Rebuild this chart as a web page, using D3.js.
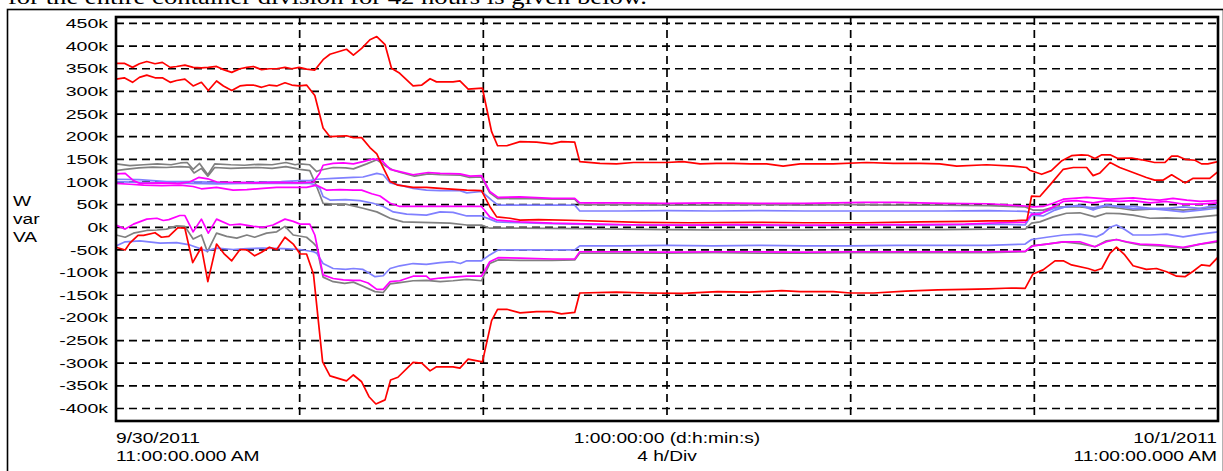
<!DOCTYPE html>
<html>
<head>
<meta charset="utf-8">
<script src="https://cdn.jsdelivr.net/npm/d3@7"></script>
<style>
  body { margin: 0; background: #fff; }
  svg { display: block; }
  text { font-family: "Liberation Sans", Arial, sans-serif; fill: #000; }
</style>
</head>
<body>
<script>
// time in hours from 9/30/2011 11:00 AM, values in k (W / var / VA)
const hourGrid = [4, 8, 12, 16, 20];
const yTicks = [450, 400, 350, 300, 250, 200, 150, 100, 50, 0, -50, -100, -150, -200, -250, -300, -350, -400];
const yLabels = ["W", "var", "VA"];

const red1 = [[0,362],[0.18,362],[0.36,353],[0.51,361],[0.67,366],[0.85,361],[1.01,364],[1.18,353],[1.32,355],[1.5,358],[1.68,353],[1.86,352],[2.01,353],[2.19,355],[2.34,348],[2.52,342],[2.7,350],[2.85,353],[2.99,355],[3.17,348],[3.34,350],[3.5,350],[3.68,353],[3.83,350],[3.99,353],[4.15,349],[4.33,347],[4.51,370],[4.66,382],[5.02,393],[5.17,380],[5.35,395],[5.53,414],[5.68,421],[5.86,403],[6.0,351],[6.18,340],[6.47,312],[6.66,314],[6.84,328],[6.98,321],[7.34,321],[7.49,323],[7.67,305],[7.98,307],[8.18,211],[8.31,180],[8.51,180],[8.8,189],[9.16,188],[9.49,184],[9.7,189],[9.99,188],[10.1,145],[10.54,141],[10.9,140],[11.27,143],[11.7,143],[11.99,143],[12.35,145],[12.72,140],[13.08,141],[13.44,141],[13.81,140],[14.17,140],[14.53,135],[14.9,140],[15.62,140],[16.35,143],[16.93,141],[17.51,141],[17.94,140],[18.31,135],[18.96,138],[19.54,135],[19.83,132],[19.9,126],[20.16,117],[20.37,125],[20.6,147],[20.81,158],[21.03,160],[21.17,159],[21.32,152],[21.47,160],[21.65,160],[21.82,152],[22.12,153],[22.34,149],[22.62,143],[22.84,143],[22.99,157],[23.13,157],[23.28,150],[23.5,148],[23.64,140],[23.78,140],[24,145]];
const red2 = [[0,327],[0.18,330],[0.36,320],[0.51,331],[0.67,336],[0.85,330],[1.01,330],[1.18,320],[1.32,324],[1.5,327],[1.68,312],[1.86,320],[2.01,302],[2.19,323],[2.34,312],[2.52,302],[2.7,312],[2.85,314],[2.99,314],[3.17,309],[3.34,314],[3.5,312],[3.68,319],[3.83,314],[3.99,312],[4.15,314],[4.33,291],[4.51,219],[4.66,200],[5.02,202],[5.17,198],[5.35,198],[5.53,176],[5.68,162],[5.79,138],[5.97,101],[6.14,93],[6.47,88],[6.76,88],[7.06,86],[7.64,82],[7.96,81],[8.14,46],[8.29,23],[8.58,20],[8.8,16],[9.2,17],[10.1,15],[11.4,11],[12.5,10],[13.8,11],[15,10],[16.3,10],[17.5,12],[18.5,13],[19.0,14],[19.5,14],[19.84,16],[19.94,69],[20.12,68],[20.37,97],[20.63,128],[20.85,132],[21.14,132],[21.28,114],[21.43,120],[21.65,143],[21.86,132],[22.15,121],[22.44,110],[22.62,104],[22.8,104],[22.99,116],[23.28,98],[23.46,108],[23.82,108],[24,123]];
const red3 = [[0,-44],[0.2,-50],[0.3,-35],[0.48,-18],[0.6,-18],[0.85,-12],[0.99,-22],[1.15,-20],[1.35,-1],[1.5,-2],[1.67,-78],[1.86,-44],[2.0,-120],[2.19,-37],[2.35,-58],[2.52,-74],[2.7,-49],[2.85,-50],[3.02,-63],[3.17,-55],[3.34,-44],[3.5,-49],[3.68,-22],[3.86,-37],[4.01,-59],[4.15,-59],[4.3,-103],[4.5,-297],[4.66,-328],[5.02,-339],[5.17,-326],[5.35,-341],[5.51,-374],[5.66,-390],[5.86,-381],[5.98,-337],[6.14,-331],[6.47,-298],[6.66,-300],[6.84,-317],[6.98,-308],[7.34,-308],[7.49,-311],[7.67,-291],[7.98,-297],[8.18,-206],[8.31,-181],[8.51,-181],[8.8,-189],[9.16,-186],[9.49,-186],[9.7,-191],[9.99,-188],[10.1,-145],[10.9,-143],[11.6,-145],[12.35,-146],[13.1,-142],[13.8,-143],[14.5,-140],[14.9,-142],[15.62,-142],[16.0,-145],[16.5,-145],[17.2,-141],[17.9,-138],[18.5,-137],[19.0,-136],[19.5,-134],[19.8,-135],[19.97,-103],[20.19,-94],[20.45,-74],[20.63,-74],[20.81,-83],[21.17,-91],[21.32,-96],[21.47,-91],[21.65,-57],[21.79,-44],[21.97,-61],[22.15,-85],[22.44,-93],[22.66,-91],[22.88,-98],[23.1,-108],[23.28,-109],[23.46,-97],[23.64,-83],[23.82,-85],[24,-66]];

const magenta1 = [[0,118],[0.2,119],[0.38,103],[0.52,97],[1.0,98],[1.35,97],[1.6,100],[1.8,110],[2.0,107],[2.2,100],[2.5,99],[3.0,98],[3.5,99],[4.0,98],[4.3,100],[4.44,120],[4.51,137],[4.73,141],[4.95,142],[5.17,140],[5.38,145],[5.6,151],[5.79,147],[5.97,128],[6.18,123],[6.47,116],[6.8,121],[7.06,119],[7.49,118],[7.71,113],[7.96,114],[8.14,79],[8.32,66],[8.8,67],[9.5,64],[9.99,64],[10.1,54],[11,54],[12,53],[13,54],[14,53],[15,53],[16.3,55],[17,55],[18,53],[19,52],[19.8,47],[19.97,45],[20.19,46],[20.41,53],[20.63,62],[20.85,64],[21.14,66],[21.43,64],[21.65,62],[21.94,64],[22.15,65],[22.44,62],[22.73,60],[23.02,64],[23.32,60],[23.61,57],[24,59]];
const magenta2 = [[0,97],[0.3,95],[0.6,93],[1.0,92],[1.4,93],[1.68,90],[1.86,85],[2.19,88],[2.55,82],[2.85,83],[3.2,86],[3.5,88],[3.86,88],[4.15,88],[4.37,93],[4.59,82],[4.88,83],[5.17,82],[5.35,82],[5.57,74],[5.75,69],[5.97,53],[6.18,46],[7.96,46],[8.14,23],[8.29,16],[8.8,12],[9.5,9],[10.5,7],[11.5,5],[12.5,5],[13.5,6],[14.5,5],[15.5,5],[16.5,6],[17.5,6],[18.5,7],[19.25,10],[19.8,11],[19.94,29],[20.12,29],[20.41,45],[20.63,57],[20.92,59],[21.28,54],[21.57,59],[21.86,57],[22.15,59],[22.52,54],[22.88,57],[23.24,51],[23.61,51],[24,54]];
const magenta3 = [[0,5],[0.2,-4],[0.38,7],[0.67,18],[0.89,20],[1.03,15],[1.15,17],[1.39,26],[1.5,26],[1.68,-10],[1.86,18],[2.01,-13],[2.19,18],[2.48,5],[2.7,7],[2.99,2],[3.21,0],[3.42,5],[3.68,18],[3.86,13],[4.01,7],[4.22,7],[4.33,-17],[4.51,-105],[4.73,-113],[4.95,-116],[5.17,-117],[5.31,-117],[5.49,-123],[5.68,-137],[5.82,-137],[5.97,-120],[6.18,-118],[6.47,-108],[6.76,-108],[6.84,-115],[7.06,-112],[7.34,-110],[7.64,-108],[7.96,-108],[8.14,-76],[8.32,-67],[8.8,-68],[9.5,-70],[9.99,-70],[10.1,-54],[11,-54],[12,-55],[13,-54],[14,-54],[15,-55],[16,-54],[17,-54],[18,-54],[19,-54],[19.8,-53],[19.97,-41],[20.27,-37],[20.63,-32],[20.99,-32],[21.32,-43],[21.57,-32],[21.79,-27],[22.01,-32],[22.3,-37],[22.73,-39],[23.24,-44],[23.61,-37],[24,-30]];

const gray1 = [[0,140],[0.3,136],[0.6,138],[0.9,140],[1.2,138],[1.4,142],[1.55,143],[1.68,128],[1.82,141],[2.0,116],[2.15,140],[2.5,138],[2.8,137],[3.1,139],[3.4,138],[3.7,143],[3.9,138],[4.01,140],[4.22,138],[4.37,123],[4.44,126],[4.73,132],[5.0,131],[5.17,129],[5.46,140],[5.68,149],[5.89,134],[6.04,126],[6.2,121],[6.5,113],[6.8,118],[7.06,116],[7.5,115],[7.7,110],[7.96,111],[8.14,76],[8.32,63],[8.8,64],[9.5,62],[9.99,62],[10.1,50],[11,50],[12,49],[13,49],[14,50],[15,49],[16,50],[17,49],[18,49],[19,48],[19.8,45],[19.97,38],[20.19,38],[20.41,44],[20.63,45],[20.99,45],[21.28,42],[21.57,45],[21.86,42],[22.15,38],[22.52,40],[22.88,41],[23.24,38],[23.61,41],[24,45]];
const gray2 = [[0,125],[0.2,128],[0.5,131],[0.8,133],[1.1,132],[1.4,134],[1.6,133],[1.7,120],[1.86,130],[2.0,113],[2.15,132],[2.5,130],[2.8,131],[3.1,132],[3.4,130],[3.7,134],[4.01,128],[4.22,125],[4.37,90],[4.51,53],[4.73,51],[5.0,51],[5.38,42],[5.68,34],[5.97,20],[6.25,12],[7.27,9],[7.64,5],[7.96,5],[8.14,-2],[8.8,-2],[10,-3],[11,-4],[12,-5],[13,-6],[14,-6],[15,-6],[16,-5],[17,-5],[18,-5],[19,-4],[19.8,-4],[19.94,9],[20.12,12],[20.41,23],[20.7,31],[20.99,32],[21.32,23],[21.57,31],[21.86,30],[22.15,27],[22.52,20],[22.88,21],[23.24,20],[23.61,23],[24,27]];
const gray3 = [[0,-17],[0.2,-22],[0.38,-13],[0.67,-7],[0.89,-6],[1.1,-4],[1.32,3],[1.5,2],[1.68,-26],[1.86,-17],[1.99,-54],[2.19,-13],[2.41,-20],[2.63,-24],[2.85,-17],[3.02,-22],[3.28,-13],[3.5,-10],[3.68,2],[3.86,-17],[4.15,-22],[4.3,-35],[4.37,-43],[4.51,-110],[4.73,-120],[4.98,-124],[5.17,-121],[5.38,-130],[5.64,-142],[5.82,-144],[5.97,-125],[6.18,-122],[6.47,-118],[6.76,-117],[7.06,-120],[7.34,-118],[7.64,-115],[7.96,-118],[8.14,-80],[8.32,-72],[8.8,-73],[9.5,-73],[9.99,-72],[10.1,-57],[11,-57],[12,-57],[13,-56],[14,-57],[15,-57],[16,-56],[17,-56],[18,-56],[19,-56],[19.8,-54],[19.94,-41],[20.27,-37],[20.63,-32],[20.99,-36],[21.32,-43],[21.57,-30],[21.79,-27],[21.97,-32],[22.3,-39],[22.73,-41],[23.24,-46],[23.61,-37],[24,-32]];

const blue1 = [[0,106],[0.5,105],[1.1,101],[1.6,101],[2.2,99],[2.55,98],[3.2,100],[3.6,101],[4.01,103],[4.22,103],[4.37,106],[4.73,108],[5.17,110],[5.38,111],[5.68,119],[5.82,116],[5.97,98],[6.18,93],[6.47,86],[6.76,82],[7.06,81],[7.49,81],[7.64,76],[7.96,79],[8.18,60],[8.32,49],[8.8,49],[9.5,49],[9.99,49],[10.1,36],[11,36],[12,37],[13,36],[14,37],[15,36],[16,36],[17,36],[18,36],[19,37],[19.8,35],[19.97,31],[20.19,33],[20.45,42],[20.7,45],[20.99,49],[21.28,38],[21.57,49],[21.86,45],[22.15,41],[22.52,41],[22.88,38],[23.24,34],[23.61,38],[24,42]];
const blue2 = [[0,101],[0.5,99],[1.0,98],[1.6,97],[2.2,96],[2.8,97],[3.4,97],[4.01,97],[4.22,97],[4.3,95],[4.44,86],[4.51,68],[4.66,60],[5.0,61],[5.31,59],[5.6,53],[5.82,46],[6.04,34],[6.33,29],[6.76,27],[7.06,34],[7.34,33],[7.64,25],[7.96,25],[8.14,18],[8.29,12],[8.8,10],[9.5,8],[10.5,6],[11.5,5],[12.5,5],[13.5,5],[14.5,4],[15.5,4],[16.5,5],[17.5,5],[18.5,6],[19.25,7],[19.8,5],[19.94,27],[20.19,25],[20.45,38],[20.7,46],[20.99,47],[21.28,43],[21.57,49],[21.86,46],[22.15,46],[22.52,42],[22.88,42],[23.24,45],[23.61,42],[24,49]];
const blue3 = [[0,-41],[0.2,-32],[0.52,-30],[0.96,-35],[1.32,-34],[1.61,-39],[1.97,-52],[2.19,-46],[2.55,-49],[2.85,-47],[3.2,-46],[3.64,-47],[4.01,-49],[4.3,-54],[4.37,-57],[4.51,-80],[4.73,-91],[5.0,-93],[5.17,-91],[5.38,-93],[5.64,-109],[5.82,-107],[5.97,-91],[6.18,-85],[6.47,-80],[6.76,-82],[7.06,-78],[7.34,-76],[7.5,-80],[7.64,-74],[7.96,-74],[8.14,-61],[8.32,-50],[8.8,-50],[9.5,-50],[9.99,-50],[10.1,-41],[11,-41],[12,-40],[13,-41],[14,-40],[15,-41],[16,-41],[17,-40],[18,-40],[19,-40],[19.8,-37],[19.94,-27],[20.27,-22],[20.63,-17],[20.99,-15],[21.36,-21],[21.5,-14],[21.65,0],[21.79,5],[21.97,-5],[22.15,-17],[22.52,-17],[22.88,-15],[23.24,-21],[23.61,-15],[24,-10]];

const series = [
  { data: gray1, color: "#808080" }, { data: gray2, color: "#808080" }, { data: gray3, color: "#808080" },
  { data: blue1, color: "#8080ff" }, { data: blue2, color: "#8080ff" }, { data: blue3, color: "#8080ff" },
  { data: magenta1, color: "#ff00ff" }, { data: magenta2, color: "#ff00ff" }, { data: magenta3, color: "#ff00ff" },
  { data: red1, color: "#ff0000" }, { data: red2, color: "#ff0000" }, { data: red3, color: "#ff0000" }
];

const W = 1223, H = 471;
const plot = { left: 116, right: 1218, top: 17, bottom: 421 };

const svg = d3.select("body").append("svg")
  .attr("width", W)
  .attr("height", H);

const x = d3.scaleLinear().domain([0, 24]).range([plot.left, plot.right]);
const y = d3.scaleLinear().domain([-427.6, 464.2]).range([plot.bottom, plot.top]);

// caption text cut off by the top of the page
svg.append("text")
   .attr("x", 8)
   .attr("y", 3.5)
   .attr("textLength", 639)
   .attr("lengthAdjust", "spacingAndGlyphs")
   .style("font-family", "'Liberation Serif', 'Times New Roman', serif")
   .style("font-size", "21px")
   .text("for the entire container division for 42 hours is given below.");

// outer frame
svg.append("rect")
   .attr("x", 7.5).attr("y", 9.5)
   .attr("width", 1216).attr("height", 470)
   .attr("fill", "none").attr("stroke", "#000").attr("stroke-width", 1.6);

// dashed grid
svg.append("g")
   .selectAll("line")
   .data(yTicks)
   .enter()
   .append("line")
   .attr("x1", plot.left).attr("x2", plot.right)
   .attr("y1", d => y(d)).attr("y2", d => y(d))
   .attr("stroke", "#000").attr("stroke-width", 1.7)
   .attr("stroke-dasharray", "8,5");

svg.append("g")
   .selectAll("line")
   .data(hourGrid)
   .enter()
   .append("line")
   .attr("x1", d => x(d)).attr("x2", d => x(d))
   .attr("y1", plot.top).attr("y2", plot.bottom)
   .attr("stroke", "#000").attr("stroke-width", 1.7)
   .attr("stroke-dasharray", "8,5");

// data lines
svg.append("clipPath").attr("id", "clip")
   .append("rect")
   .attr("x", plot.left).attr("y", plot.top)
   .attr("width", plot.right - plot.left).attr("height", plot.bottom - plot.top);

const line = d3.line().x(d => x(d[0])).y(d => y(d[1]));

svg.append("g")
   .attr("clip-path", "url(#clip)")
   .selectAll("path")
   .data(series)
   .enter()
   .append("path")
   .attr("d", d => line(d.data))
   .attr("fill", "none")
   .attr("stroke", d => d.color)
   .attr("stroke-width", 1.7)
   .attr("stroke-linejoin", "round");

// plot frame
svg.append("rect")
   .attr("x", plot.left).attr("y", plot.top)
   .attr("width", plot.right - plot.left).attr("height", plot.bottom - plot.top)
   .attr("fill", "none").attr("stroke", "#000").attr("stroke-width", 2.6);

// y tick labels (text in the reference is stretched sideways)
svg.append("g")
   .selectAll("text")
   .data(yTicks)
   .enter()
   .append("text")
   .attr("transform", d => `translate(108,${y(d) + 4.6}) scale(1.5,1)`)
   .attr("text-anchor", "end")
   .style("font-size", "13px")
   .text(d => d + "k");

svg.append("g")
   .selectAll("text")
   .data(yLabels)
   .enter()
   .append("text")
   .attr("transform", (d, i) => `translate(13,${205.5 + i * 18}) scale(1.37,1)`)
   .style("font-size", "14px")
   .text(d => d);

// bottom labels
const bottomLabels = [
  { x: plot.left, anchor: "start", lines: ["9/30/2011", "11:00:00.000 AM"] },
  { x: x(12), anchor: "middle", lines: ["1:00:00:00 (d:h:min:s)", "4 h/Div"] },
  { x: plot.right - 1, anchor: "end", lines: ["10/1/2011", "11:00:00.000 AM"] }
];

bottomLabels.forEach(b => {
  b.lines.forEach((t, i) => {
    svg.append("text")
       .attr("transform", `translate(${b.x},${442.5 + i * 18.5}) scale(1.37,1)`)
       .attr("text-anchor", b.anchor)
       .style("font-size", "14px")
       .text(t);
  });
});
</script>
</body>
</html>
